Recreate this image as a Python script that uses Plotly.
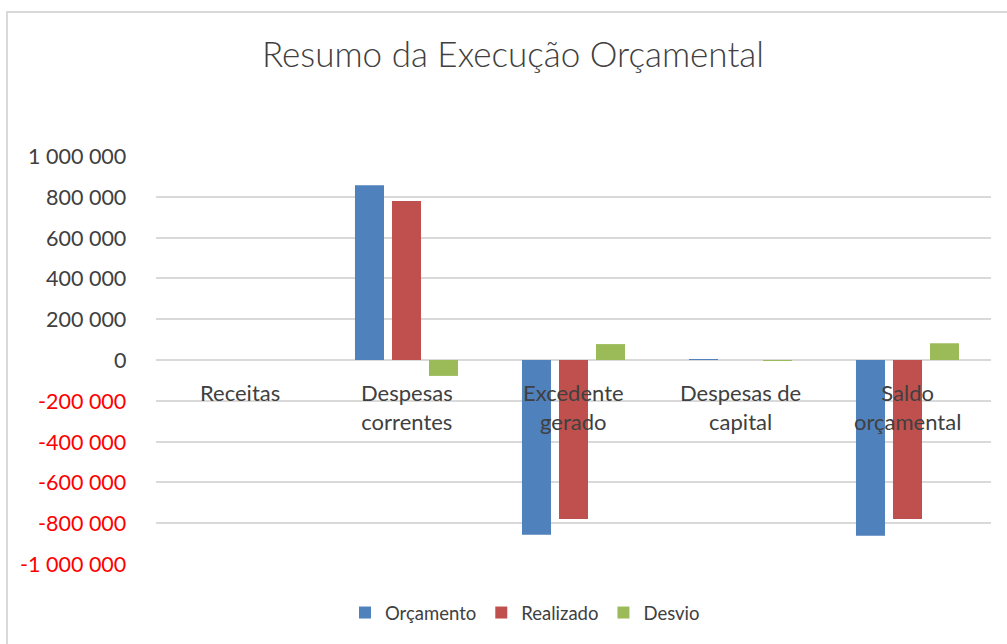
import plotly.graph_objects as go

categories = ["Receitas", "Despesas correntes", "Excedente gerado", "Despesas de capital", "Saldo orçamental"]
category_labels = ["Receitas", "Despesas<br>correntes", "Excedente<br>gerado", "Despesas de<br>capital", "Saldo<br>orçamental"]
orcamento = [0, 857000, -857000, 4000, -861000]
realizado = [0, 779000, -779000, 0, -779000]
desvio = [0, -78000, 78000, -4000, 82000]
tick_vals = [1000000, 800000, 600000, 400000, 200000, 0, -200000, -400000, -600000, -800000, -1000000]
tick_text = ["1 000 000", "800 000", "600 000", "400 000", "200 000", "0",
             "-200 000", "-400 000", "-600 000", "-800 000", "-1 000 000"]

FONT = "Lato"
TXT = "#404040"

fig = go.Figure()
fig.add_bar(x=categories, y=orcamento, name="Orçamento", marker=dict(color="#4F81BD", line=dict(width=0)))
fig.add_bar(x=categories, y=realizado, name="Realizado", marker=dict(color="#C0504D", line=dict(width=0)))
fig.add_bar(x=categories, y=desvio, name="Desvio", marker=dict(color="#9BBB59", line=dict(width=0)))

# category labels placed just below the zero line
for c, lab in zip(categories, category_labels):
    fig.add_annotation(x=c, y=0, xref="x", yref="y", text=lab, showarrow=False,
                       yanchor="top", xanchor="center", yshift=-17,
                       font=dict(family=FONT, size=22, color=TXT))

# tick labels (negatives in red) as annotations to the left of the plot
for v, t in zip(tick_vals, tick_text):
    fig.add_annotation(x=0, y=v, xref="paper", yref="y", text=t, showarrow=False,
                       xanchor="right", yanchor="middle", xshift=-28,
                       font=dict(family=FONT, size=21.5, color="#FF0000" if v < 0 else TXT))

fig.update_layout(
    width=1007, height=644,
    margin=dict(l=156, r=16, t=156, b=80),
    paper_bgcolor="white", plot_bgcolor="white",
    barmode="group", bargap=0.335, bargroupgap=0.216,
    title=dict(text="Resumo da Execução Orçamental", x=513 / 1007, xanchor="center",
               y=1 - 55 / 644, yanchor="middle",
               font=dict(family=FONT, size=35, color=TXT, weight=300)),
    xaxis=dict(showticklabels=False, showgrid=False, zeroline=False, showline=False, ticks=""),
    yaxis=dict(range=[-1000000, 1000000], tickvals=tick_vals, showticklabels=False,
               showgrid=True, gridcolor="#D9D9D9", gridwidth=1.5,
               zeroline=True, zerolinecolor="#D9D9D9", zerolinewidth=1.5, showline=False),
    legend=dict(orientation="h", x=(525 - 156) / 835, xanchor="center",
                y=(564 - 613) / 408, yanchor="middle", itemwidth=30,
                font=dict(family=FONT, size=18.5, color=TXT), traceorder="normal"),
    showlegend=True,
)

fig.add_shape(type="rect", xref="paper", yref="paper",
              x0=(7 - 156) / 835, x1=(1030 - 156) / 835,
              y0=(564 - 660) / 408, y1=(564 - 12) / 408,
              line=dict(color="#D9D9D9", width=2), fillcolor="rgba(0,0,0,0)", layer="below")

fig.write_html("out.html", config={"displayModeBar": False},
               post_script="document.body.style.margin='0';document.body.style.padding='0';")
